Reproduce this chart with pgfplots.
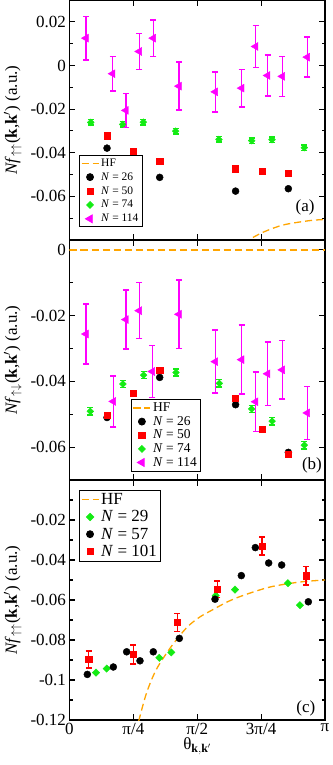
\documentclass[border=0pt]{standalone}
\usepackage{fontspec}
\setmainfont{Liberation Serif}
\usepackage{pgfplots}
\pgfplotsset{compat=1.18}
\definecolor{gmag}{RGB}{255,0,255}
\definecolor{ggreen}{RGB}{20,235,20}
\definecolor{gorange}{RGB}{255,165,0}
\definecolor{gred}{RGB}{255,0,0}
\newcommand{\fs}{\fontsize{17}{20}\selectfont}
\pgfplotsset{
  panel/.style={
    width=255.5pt, height=240pt, scale only axis, anchor=south west,
    xmin=0, xmax=1,
    xtick={0,0.25,0.5,0.75,1},
    scaled y ticks=false, scaled x ticks=false,
    tick align=inside, xtick pos=both, ytick pos=both,
    major tick length=6pt, minor tick length=3.5pt,
    axis line style={line width=1.1pt},
    every tick/.style={black, line width=1.1pt},
    tick label style={font=\fs},
    label style={font=\fs},
    ylabel style={at={(axis description cs:-0.222,0.5)}, anchor=center},
    legend cell align=left,
    legend style={draw=black, line width=0.8pt, fill=white, inner sep=1.5pt, row sep=0.5pt},
  },
  hf/.style={gorange, line width=1.3pt, dash pattern=on 7pt off 4pt, no markers, smooth},
  blk/.style={only marks, mark=*, mark size=3.5pt, mark options={fill=black, draw=black}, black},
  rsq/.style={only marks, mark=square*, mark size=3.1pt, mark options={fill=gred, draw=gred}, gred},
  grn/.style={only marks, mark=square*, mark size=2.4pt, mark options={rotate=45, fill=ggreen, draw=ggreen}, ggreen},
  mtri/.style={only marks, mark=triangle*, mark size=4.6pt, mark options={rotate=90, fill=gmag, draw=gmag}, gmag},
  eb/.style={error bars/.cd, y dir=both, y explicit,
    error bar style={line width=1.5pt, draw=#1},
    error mark options={rotate=90, mark size=3pt, line width=1.5pt, draw=#1}},
}
\begin{document}
\begin{tikzpicture}
% ---------------- panel (a)
\begin{axis}[panel, at={(0,480pt)},
  ymin=-0.08, ymax=0.03,
  ytick={-0.06,-0.04,-0.02,0,0.02}, yticklabels={-0.06,-0.04,-0.02,0,0.02},
  minor ytick={-0.07,-0.05,-0.03,-0.01,0.01},
  xticklabels={},
  ylabel={\textit{Nf}$_{\uparrow\uparrow}$(\textbf{k},\textbf{k}$'$) (a.u.)},
  legend style={font=\fontsize{11.5}{13}\selectfont, row sep=0.8pt, at={(rel axis cs:0.037,0.053)}, anchor=south west},
]
\addplot[hf] coordinates {(0.68,-0.0812) (0.700,-0.0800) (0.7586,-0.0764) (0.837,-0.0731) (0.941,-0.0711) (1.0,-0.0706)};
\addlegendentry{HF}
\addplot[blk] coordinates {(0.1468,-0.0379) (0.353,-0.0513) (0.650,-0.0576) (0.8565,-0.0565)};
\addlegendentry{\textit{N} = 26}
\addplot[rsq] coordinates {(0.1468,-0.0322) (0.2498,-0.0395) (0.353,-0.0440) (0.650,-0.0473) (0.7535,-0.0485) (0.8565,-0.0493)};
\addlegendentry{\textit{N} = 50}
\addplot[grn, eb=ggreen] table[x=x, y=y, y error=e] {
x y e
0.0832 -0.0261 0.0013
0.208 -0.0270 0.0013
0.289 -0.0260 0.0013
0.4155 -0.0301 0.0013
0.585 -0.0339 0.0013
0.713 -0.0345 0.0013
0.7926 -0.0340 0.0013
0.919 -0.0377 0.0013
};
\addlegendentry{\textit{N} = 74}
\addplot[mtri, eb=gmag] table[x=x, y=y, y error=e] {
x y e
0.0646 0.0125 0.0100
0.169 -0.0038 0.0079
0.221 -0.0206 0.0078
0.273 0.0064 0.0082
0.328 0.0125 0.0083
0.4286 -0.0095 0.0110
0.571 -0.0121 0.0092
0.674 -0.0104 0.0086
0.7286 0.0087 0.0097
0.7756 -0.0046 0.0093
0.833 -0.0050 0.0092
0.931 0.0038 0.0092
};
\addlegendentry{\textit{N} = 114}
\node[font=\fs] at (rel axis cs:0.922,0.134) {(a)};
\end{axis}
% ---------------- panel (b)
\begin{axis}[panel, at={(0,240pt)},
  ymin=-0.07, ymax=0.003,
  ytick={-0.06,-0.04,-0.02,0}, yticklabels={-0.06,-0.04,-0.02,0},
  minor ytick={-0.05,-0.03,-0.01},
  xticklabels={},
  ylabel={\textit{Nf}$_{\uparrow\downarrow}$(\textbf{k},\textbf{k}$'$) (a.u.)},
  legend style={font=\fontsize{13.5}{15}\selectfont, row sep=-0.8pt, at={(rel axis cs:0.24,0.035)}, anchor=south west},
]
\addplot[hf] coordinates {(0,0) (1,0)};
\addlegendentry{HF}
\addplot[blk] coordinates {(0.1468,-0.0510) (0.353,-0.0388) (0.650,-0.0471) (0.8565,-0.0616)};
\addlegendentry{\textit{N} = 26}
\addplot[rsq] coordinates {(0.1468,-0.0503) (0.2498,-0.0437) (0.353,-0.0365) (0.650,-0.0452) (0.7535,-0.0546) (0.8565,-0.0621)};
\addlegendentry{\textit{N} = 50}
\addplot[grn, eb=ggreen] table[x=x, y=y, y error=e] {
x y e
0.0815 -0.0491 0.0011
0.209 -0.0408 0.0011
0.290 -0.0381 0.0011
0.417 -0.0373 0.0011
0.5865 -0.0406 0.0011
0.713 -0.0484 0.0011
0.793 -0.0521 0.0011
0.919 -0.0594 0.0011
};
\addlegendentry{\textit{N} = 74}
\addplot[mtri, eb=gmag] table[x=x, y=y, y error=e] {
x y e
0.0646 -0.0256 0.0091
0.1716 -0.0461 0.0078
0.221 -0.0212 0.0090
0.273 -0.0185 0.0085
0.324 -0.0370 0.0079
0.4286 -0.0196 0.0104
0.571 -0.0340 0.0096
0.674 -0.0334 0.0105
0.7286 -0.0462 0.0090
0.7756 -0.0377 0.0096
0.833 -0.0365 0.0089
0.931 -0.0496 0.0081
};
\addlegendentry{\textit{N} = 114}
\node[font=\fs] at (rel axis cs:0.949,0.059) {(b)};
\end{axis}
% ---------------- panel (c)
\begin{axis}[panel, at={(0,0pt)},
  ymin=-0.12, ymax=0,
  ytick={-0.12,-0.1,-0.08,-0.06,-0.04,-0.02}, yticklabels={-0.12,-0.1,-0.08,-0.06,-0.04,-0.02},
  minor ytick={-0.11,-0.09,-0.07,-0.05,-0.03,-0.01},
  xticklabels={0,π/4,π/2,3π/4,π},
  xlabel={θ$_{\mathbf{k},\mathbf{k}'}$},
  xlabel style={yshift=4pt},
  ylabel={\textit{Nf}$_{\uparrow\uparrow}$(\textbf{k},\textbf{k}$'$) (a.u.)},
  legend style={font=\fs, at={(rel axis cs:0.037,0.96)}, anchor=north west},
]
\addplot[hf] coordinates {(0.262,-0.126) (0.272,-0.120) (0.302,-0.1063) (0.34,-0.0947) (0.397,-0.0835) (0.4587,-0.0738) (0.51,-0.0685) (0.563,-0.0647) (0.62,-0.0608) (0.680,-0.0577) (0.785,-0.0535) (0.902,-0.0510) (1.0,-0.0500)};
\addlegendentry{HF}
\addplot[grn, mark size=2.6pt] coordinates {(0.1037,-0.0963) (0.1455,-0.0943) (0.3516,-0.0889) (0.3986,-0.0862) (0.572,-0.0578) (0.6477,-0.0548) (0.855,-0.0516) (0.902,-0.0626)};
\addlegendentry{\textit{N} = 29}
\addplot[blk] coordinates {(0.0698,-0.0972) (0.1716,-0.0935) (0.2237,-0.0859) (0.2759,-0.0904) (0.328,-0.0859) (0.4299,-0.0792) (0.5695,-0.0596) (0.6725,-0.0478) (0.7273,-0.0338) (0.7795,-0.0415) (0.8304,-0.0425) (0.9348,-0.0609)};
\addlegendentry{\textit{N} = 57}
\addplot[rsq, eb=gred] table[x=x, y=y, y error=e] {
x y e
0.075 -0.0897 0.0042
0.2498 -0.0872 0.0047
0.422 -0.0712 0.0045
0.5786 -0.0546 0.0041
0.7535 -0.0331 0.0045
0.9256 -0.0479 0.0047
};
\addlegendentry{\textit{N} = 101}
\node[font=\fs] at (rel axis cs:0.925,0.048) {(c)};
\end{axis}
\pgfresetboundingbox
\useasboundingbox (-69.5pt,-45pt) rectangle (262.5pt,720pt);
\end{tikzpicture}
\end{document}
